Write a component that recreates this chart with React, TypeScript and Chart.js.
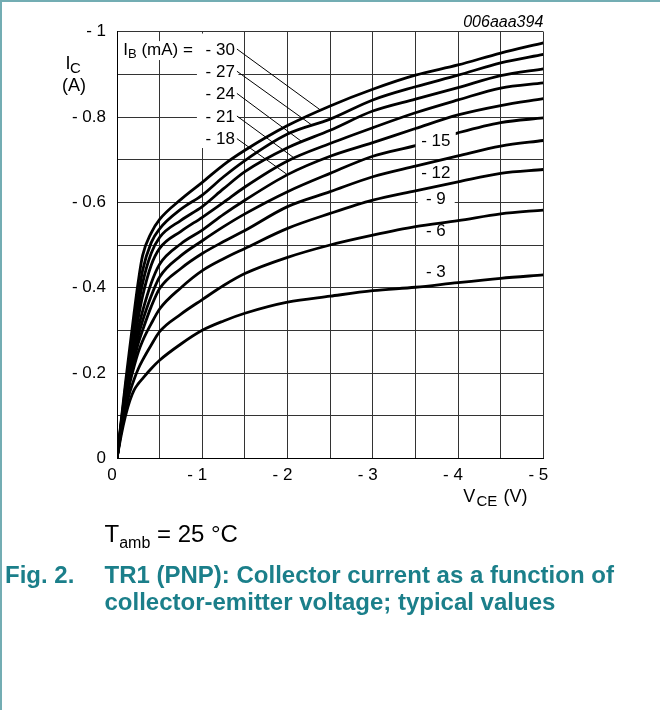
import React, { useEffect, useRef } from 'react';
import { Chart, registerables } from 'chart.js';

Chart.register(...registerables);

// Collector-emitter voltage (V)
const VCE = [0, -0.05, -0.1, -0.15, -0.2, -0.25, -0.3, -0.4, -0.5, -0.75, -1, -1.25, -1.5, -2, -2.5, -3, -3.5, -4, -4.5, -5];

// Collector current (A) for each base current
const IC_IB_M30 = [0, -0.09, -0.178, -0.26, -0.34, -0.415, -0.475, -0.528, -0.56, -0.607, -0.647, -0.688, -0.722, -0.78, -0.826, -0.865, -0.898, -0.922, -0.95, -0.974];
const IC_IB_M27 = [0, -0.086, -0.168, -0.243, -0.31, -0.38, -0.44, -0.505, -0.538, -0.584, -0.617, -0.66, -0.698, -0.76, -0.795, -0.84, -0.871, -0.898, -0.927, -0.947];
const IC_IB_M24 = [0, -0.082, -0.16, -0.228, -0.29, -0.355, -0.41, -0.48, -0.518, -0.558, -0.59, -0.632, -0.672, -0.728, -0.769, -0.814, -0.842, -0.869, -0.897, -0.913];
const IC_IB_M21 = [0, -0.079, -0.152, -0.217, -0.275, -0.33, -0.38, -0.452, -0.492, -0.532, -0.565, -0.6, -0.636, -0.697, -0.738, -0.775, -0.81, -0.84, -0.868, -0.88];
const IC_IB_M18 = [0, -0.076, -0.146, -0.207, -0.26, -0.305, -0.345, -0.41, -0.455, -0.503, -0.535, -0.572, -0.605, -0.665, -0.708, -0.74, -0.773, -0.805, -0.827, -0.843];
const IC_IB_M15 = [0, -0.073, -0.14, -0.197, -0.246, -0.287, -0.322, -0.38, -0.425, -0.475, -0.51, -0.543, -0.573, -0.625, -0.668, -0.708, -0.733, -0.763, -0.787, -0.798];
const IC_IB_M12 = [0, -0.07, -0.135, -0.187, -0.231, -0.27, -0.3, -0.355, -0.398, -0.445, -0.48, -0.508, -0.534, -0.59, -0.625, -0.66, -0.685, -0.709, -0.732, -0.745];
const IC_IB_M9 = [0, -0.068, -0.128, -0.176, -0.215, -0.249, -0.275, -0.315, -0.35, -0.4, -0.44, -0.468, -0.492, -0.539, -0.574, -0.605, -0.627, -0.648, -0.668, -0.677];
const IC_IB_M6 = [0, -0.062, -0.115, -0.155, -0.185, -0.21, -0.23, -0.265, -0.297, -0.338, -0.372, -0.405, -0.433, -0.471, -0.5, -0.523, -0.543, -0.557, -0.573, -0.582];
const IC_IB_M3 = [0, -0.055, -0.1, -0.135, -0.16, -0.175, -0.187, -0.21, -0.23, -0.268, -0.3, -0.322, -0.34, -0.366, -0.38, -0.393, -0.401, -0.412, -0.422, -0.43];

const SERIES = [IC_IB_M30, IC_IB_M27, IC_IB_M24, IC_IB_M21, IC_IB_M18, IC_IB_M15, IC_IB_M12, IC_IB_M9, IC_IB_M6, IC_IB_M3];
const IB_LABELS = ['- 30', '- 27', '- 24', '- 21', '- 18', '- 15', '- 12', '- 9', '- 6', '- 3'];

const FONT = '"Liberation Sans", Arial, Helvetica, sans-serif';

function interp(series: number[], v: number): number {
  for (let i = 0; i < VCE.length - 1; i++) {
    const a = VCE[i], b = VCE[i + 1];
    if ((v <= a && v >= b)) {
      const t = (v - a) / (b - a);
      return series[i] + t * (series[i + 1] - series[i]);
    }
  }
  return series[series.length - 1];
}

const annotPlugin = {
  id: 'annot',
  afterDatasetsDraw(chart: any) {
    const { ctx } = chart;
    const xs = chart.scales.x, ys = chart.scales.y;
    const px = (v: number) => xs.getPixelForValue(v);
    const py = (v: number) => ys.getPixelForValue(v);
    ctx.save();

    // white boxes behind labels
    ctx.fillStyle = '#fff';
    const box = (v1: number, i1: number, v2: number, i2: number) => {
      const x1 = px(v1), x2 = px(v2), y1 = py(i1), y2 = py(i2);
      ctx.fillRect(Math.min(x1, x2), Math.min(y1, y2), Math.abs(x2 - x1), Math.abs(y2 - y1));
    };
    box(-0.9375, -0.9957, -1.424, -0.7273);
    box(-0.047, -0.978, -0.961, -0.9336);
    box(-3.504, -0.767, -3.973, -0.7227);
    box(-3.527, -0.623, -3.961, -0.5914);

    ctx.fillStyle = '#000';
    ctx.strokeStyle = '#000';
    ctx.textBaseline = 'middle';

    // left group labels
    const leftY = [-0.957, -0.905, -0.853, -0.8, -0.747];
    const leftEndV = [-2.38, -2.28, -2.16, -2.07, -1.99];
    const rightX = px(-1.383);
    ctx.font = `17px ${FONT}`;
    ctx.textAlign = 'right';
    for (let k = 0; k < 5; k++) {
      const y = py(leftY[k]);
      ctx.fillText(IB_LABELS[k], rightX, y);
      const ex = px(leftEndV[k]);
      const ey = py(interp(SERIES[k], leftEndV[k]));
      ctx.beginPath();
      ctx.lineWidth = 1;
      ctx.moveTo(rightX + 2, y - 1);
      ctx.lineTo(ex, ey - 1);
      ctx.stroke();
    }
    // "IB (mA) ="
    ctx.textAlign = 'left';
    let x = px(-0.074);
    const y0 = py(leftY[0]);
    ctx.font = `17px ${FONT}`;
    ctx.fillText('I', x, y0);
    x += ctx.measureText('I').width;
    ctx.font = `13px ${FONT}`;
    ctx.fillText('B', x, y0 + 4);
    x += ctx.measureText('B').width;
    ctx.font = `17px ${FONT}`;
    ctx.fillText(' (mA) =', x, y0);

    // right labels
    const rightY = [-0.744, -0.669, -0.608, -0.531, -0.4355];
    ctx.textAlign = 'center';
    for (let k = 0; k < 5; k++) {
      ctx.fillText(IB_LABELS[k + 5], px(-3.74), py(rightY[k]));
    }

    // diagram code
    ctx.font = `italic 16px ${FONT}`;
    ctx.textAlign = 'right';
    ctx.textBaseline = 'alphabetic';
    ctx.fillText('006aaa394', chart.chartArea.right, 26.5);

    // axis titles
    ctx.textAlign = 'left';
    ctx.font = `18px ${FONT}`;
    ctx.fillText('I', 65.5, 68.5);
    ctx.font = `15px ${FONT}`;
    ctx.fillText('C', 70, 73);
    ctx.font = `18px ${FONT}`;
    ctx.fillText('(A)', 62, 91);

    ctx.font = `18px ${FONT}`;
    ctx.fillText('V', 463.3, 502);
    ctx.font = `15px ${FONT}`;
    ctx.fillText('CE', 476.5, 505.5);
    ctx.font = `18px ${FONT}`;
    ctx.fillText('(V)', 503.5, 502);

    ctx.restore();
  },
};

export default function App() {
  const ref = useRef<HTMLCanvasElement>(null);
  useEffect(() => {
    const canvas = ref.current!;
    const chart = new Chart(canvas, {
      type: 'line',
      data: {
        datasets: SERIES.map((s, k) => ({
          label: IB_LABELS[k],
          data: VCE.map((v, i) => ({ x: v, y: s[i] })),
          borderColor: '#000',
          borderWidth: 2.8,
          pointRadius: 0,
          fill: false,
          cubicInterpolationMode: 'monotone' as const,
        })),
      },
      options: {
        animation: false,
        responsive: false,
        events: [],
        layout: { padding: { left: 0, top: 31.7, right: 116.7, bottom: 0 } },
        plugins: { legend: { display: false }, tooltip: { enabled: false } },
        scales: {
          x: {
            type: 'linear',
            min: -5,
            max: 0,
            reverse: true,
            afterFit: (s: any) => { s.height = 520 - 458.33; },
            grid: { color: '#333', lineWidth: 1, drawTicks: false },
            border: { color: '#000', width: 1 },
            ticks: {
              stepSize: 0.5,
              autoSkip: false,
              maxRotation: 0,
              padding: 7,
              labelOffset: -5,
              color: '#000',
              font: { family: FONT, size: 17 },
              callback: (value: any) => {
                const r = Math.round(Number(value) * 2) / 2;
                if (Math.abs(r - Math.round(r)) > 1e-6) return '';
                return r === 0 ? '0' : '- ' + Math.abs(r);
              },
            },
          },
          y: {
            type: 'linear',
            min: -1,
            max: 0,
            reverse: true,
            afterFit: (s: any) => { s.width = 117; },
            grid: { color: '#333', lineWidth: 1, drawTicks: false },
            border: { color: '#000', width: 1 },
            ticks: {
              stepSize: 0.1,
              autoSkip: false,
              padding: 11,
              color: '#000',
              font: { family: FONT, size: 17 },
              callback: (value: any) => {
                const t = Math.round(Number(value) * 10);
                if (t % 2 !== 0) return '';
                const r = t / 10;
                return r === 0 ? '0' : '- ' + Math.abs(r);
              },
            },
          },
        },
      },
      plugins: [annotPlugin],
    } as any);
    return () => chart.destroy();
  }, []);

  return (
    <div style={{ position: 'absolute', left: 0, top: 0, width: 660, height: 710, background: '#fff', boxSizing: 'border-box', borderTop: '2px solid #73adb3', borderLeft: '2px solid #73adb3', overflow: 'hidden' }}>
      <canvas ref={ref} width={660} height={520} style={{ position: 'absolute', left: -2, top: -2, width: 660, height: 520 }} />
      <div style={{ position: 'absolute', left: 102.5, top: 517, fontFamily: FONT, fontSize: 24, lineHeight: '30px', color: '#000', whiteSpace: 'nowrap' }}>
        T<sub style={{ fontSize: 16, verticalAlign: 'baseline', position: 'relative', top: 6 }}>amb</sub> = 25 °C
      </div>
      <div style={{ position: 'absolute', left: 3, top: 558.5, fontFamily: FONT, fontSize: 24, fontWeight: 'bold', lineHeight: '27px', color: '#1b7f8a', whiteSpace: 'nowrap' }}>
        Fig. 2.
      </div>
      <div style={{ position: 'absolute', left: 102.5, top: 558.5, fontFamily: FONT, fontSize: 24, fontWeight: 'bold', lineHeight: '27px', color: '#1b7f8a', whiteSpace: 'nowrap' }}>
        TR1 (PNP): Collector current as a function of<br />collector-emitter voltage; typical values
      </div>
    </div>
  );
}
